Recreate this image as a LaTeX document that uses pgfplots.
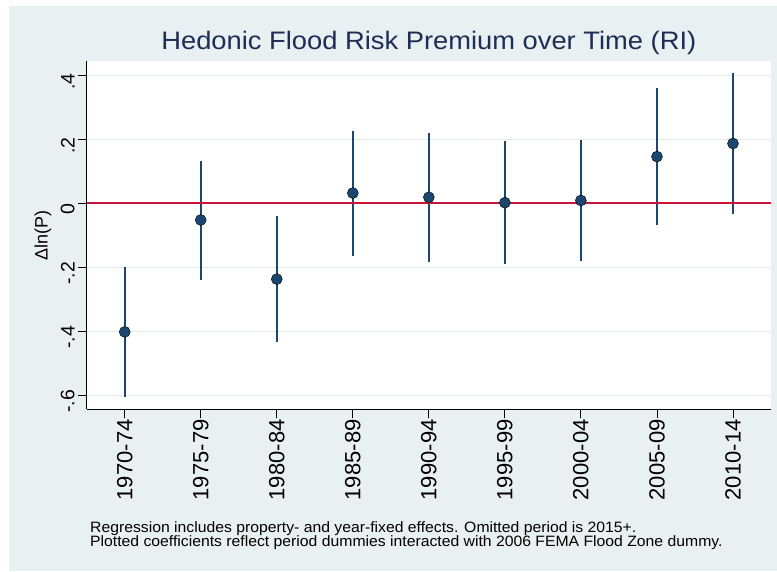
\documentclass[border=0pt]{standalone}
\usepackage{fontspec}
\setmainfont{Liberation Sans}
\newfontfamily\titlefont[FakeStretch=1.08]{Liberation Sans}
\newfontfamily\notefont[FakeStretch=1.05]{Liberation Sans}
\usepackage{pgfplots}
\usepackage{pgfplotstable}
\pgfplotsset{compat=1.18}
\definecolor{bgcol}{RGB}{232,240,242}
\definecolor{gridcol}{RGB}{226,234,238}
\definecolor{navycol}{RGB}{26,71,111}
\definecolor{zerored}{RGB}{200,22,58}
\definecolor{titlecol}{RGB}{30,45,85}
\pgfplotstableread{
x y lo hi
0 -0.402 -0.606 -0.199
1 -0.052 -0.240 0.133
2 -0.237 -0.434 -0.040
3 0.032 -0.166 0.226
4 0.019 -0.182 0.220
5 0.002 -0.191 0.194
6 0.009 -0.179 0.198
7 0.146 -0.069 0.359
8 0.187 -0.033 0.406
}\datatab
\pgfplotstableread{
x y
-0.5 0
8.5 0
}\zerotab
\begin{document}
\begin{tikzpicture}[x=1pt,y=1pt]
\useasboundingbox (0,0) rectangle (777,571);
\fill[white] (0,0) rectangle (777,571);
\fill[bgcol] (9,0) rectangle (777,565);
\begin{axis}[
  at={(86.7pt,161.7pt)}, anchor=south west,
  scale only axis, width=684.3pt, height=348.3pt,
  xmin=-0.5, xmax=8.5, ymin=-0.644, ymax=0.445,
  axis x line*=bottom, axis y line*=left,
  axis line style={-, black, line width=0.9pt},
  axis background/.style={fill=white},
  tick align=outside, major tick length=9pt,
  every tick/.style={black, line width=0.9pt},
  xtick={0,1,2,3,4,5,6,7,8},
  xticklabels={1970-74,1975-79,1980-84,1985-89,1990-94,1995-99,2000-04,2005-09,2010-14},
  xticklabel style={rotate=90, anchor=east, inner sep=1pt, font=\fontsize{22}{22}\selectfont},
  ytick={-0.6,-0.4,-0.2,0,0.2,0.4},
  yticklabels={-.6,-.4,-.2,0,.2,.4},
  yticklabel style={rotate=90, anchor=south, inner sep=3pt, xshift=-6pt, font=\fontsize{19.5}{19.5}\selectfont},
  ymajorgrids, major grid style={gridcol, line width=1.3pt},
  every axis y label/.style={at={(rel axis cs:0,0.5)}, xshift=-43.7pt, rotate=90, anchor=center, font=\fontsize{18}{18}\selectfont},
  ylabel={Δln(P)},
  every axis title/.style={at={(rel axis cs:0.5,1)}, anchor=base, yshift=11pt, font=\titlefont\fontsize{25.3}{25.3}\selectfont, text=titlecol},
  title={Hedonic Flood Risk Premium over Time (RI)},
]
\addplot[only marks, mark=none, error bars/.cd, y dir=both, y explicit, error mark=none,
  error bar style={draw=navycol, line width=1.7pt}]
  table[x=x, y=y, y error plus expr=\thisrow{hi}-\thisrow{y}, y error minus expr=\thisrow{y}-\thisrow{lo}] \datatab;
\addplot[draw=zerored, color=zerored, line width=1.8pt, mark=none, forget plot] table[x=x, y=y] \zerotab;
\addplot[only marks, mark=*, mark size=5.5pt, mark options={fill=navycol, draw=none}] table[x=x, y=y] \datatab;
\end{axis}
\node[anchor=base west, inner sep=0pt, font=\notefont\fontsize{15}{15}\selectfont] at (90,39) {Regression includes property- and year-fixed effects. Omitted period is 2015+.};
\node[anchor=base west, inner sep=0pt, font=\notefont\fontsize{15}{15}\selectfont] at (90,24.5) {Plotted coefficients reflect period dummies interacted with 2006 FEMA Flood Zone dummy.};
\end{tikzpicture}
\end{document}
